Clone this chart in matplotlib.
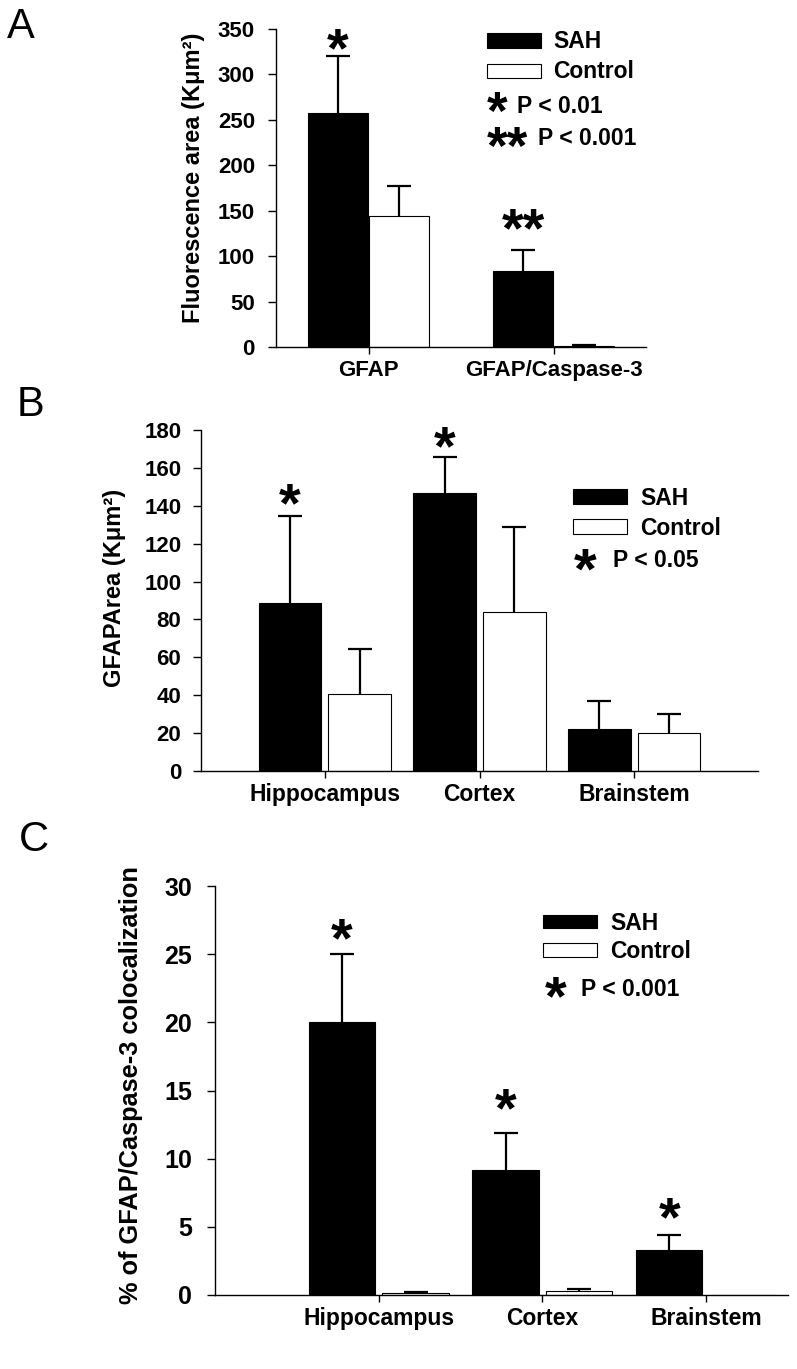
import numpy as np
import matplotlib
matplotlib.use('Agg')
import matplotlib.pyplot as plt
from matplotlib.patches import Rectangle

plt.rcParams['font.family'] = ['Liberation Sans', 'DejaVu Sans']
plt.rcParams['font.weight'] = 'bold'

# ---------------- data ----------------
a_categories = ['GFAP', 'GFAP/Caspase-3']
a_sah = [257, 84]
a_sah_err = [63, 23]
a_ctrl = [144, 1]
a_ctrl_err = [33, 1]
a_star_text = ['*', '**']
a_star_y = [336, 138]

b_categories = ['Hippocampus', 'Cortex', 'Brainstem']
b_sah = [88.5, 147, 22]
b_sah_err = [46, 19, 15]
b_ctrl = [40.5, 84, 20]
b_ctrl_err = [24, 45, 10]
b_star_text = ['*', '*', '']
b_star_y = [145, 175.5, 0]

c_categories = ['Hippocampus', 'Cortex', 'Brainstem']
c_sah = [20.0, 9.15, 3.3]
c_sah_err = [5.0, 2.7, 1.1]
c_ctrl = [0.1, 0.27, 0.0]
c_ctrl_err = [0.08, 0.12, 0.0]
c_star_text = ['*', '*', '*']
c_star_y = [26.7, 14.2, 6.2]

W, H = 797, 1369
STAR_K = 0.45   # asterisk glyph centre height above baseline (em)
fig = plt.figure(figsize=(W / 100, H / 100), dpi=100)


def px_axes(l, t, r, b):
    return fig.add_axes([l / W, 1 - b / H, (r - l) / W, (b - t) / H])


def style_axes(ax, ylim, ystep, xlim, cats, ytick_fs, xtick_fs, ypad):
    ax.set_ylim(*ylim)
    ax.set_yticks(np.arange(ylim[0], ylim[1] + ystep / 2, ystep))
    ax.set_xlim(*xlim)
    ax.set_xticks(np.arange(1, len(cats) + 1))
    ax.set_xticklabels(cats)
    for s in ['top', 'right']:
        ax.spines[s].set_visible(False)
    for s in ['left', 'bottom']:
        ax.spines[s].set_linewidth(1.0)
    ax.tick_params(axis='y', direction='out', length=5.8, width=1.0,
                   pad=ypad, labelsize=ytick_fs)
    ax.tick_params(axis='x', direction='out', length=5.0, width=1.0,
                   pad=4, labelsize=xtick_fs)


def draw_bars(ax, sah, sah_err, ctrl, ctrl_err, offset, width,
              star_text, star_y, star_fs):
    x = np.arange(1, len(sah) + 1)
    sah = np.asarray(sah, float)
    ctrl = np.asarray(ctrl, float)
    sah_err = np.asarray(sah_err, float)
    ctrl_err = np.asarray(ctrl_err, float)
    ax.bar(x - offset, sah, width, color='black', edgecolor='black',
           linewidth=0.8, zorder=2)
    ax.bar(x + offset, ctrl, width, color='white', edgecolor='black',
           linewidth=0.8, zorder=2)
    for xs, v, e in [(x - offset, sah, sah_err), (x + offset, ctrl, ctrl_err)]:
        m = e > 0
        # upper-only error bars: stem from bar top plus a cap
        ax.vlines(xs[m], v[m], v[m] + e[m], colors='black', linewidth=1.6,
                  zorder=3)
        ax.plot(xs[m], v[m] + e[m], linestyle='none', marker='_',
                markersize=17, markeredgewidth=1.6, color='black', zorder=3)
    for xi, t, ys in zip(x - offset, star_text, star_y):
        if t:
            ax.annotate(t, xy=(xi, ys), xytext=(0, -STAR_K * star_fs),
                        textcoords='offset points', ha='center',
                        va='baseline', fontsize=star_fs, fontweight='bold')


def legend_patch(x0, y0, x1, y1, fc):
    fig.add_artist(Rectangle((x0 / W, 1 - y1 / H), (x1 - x0) / W,
                             (y1 - y0) / H, transform=fig.transFigure,
                             facecolor=fc, edgecolor='black', linewidth=0.8))


def cap_text(x, yc, s, fs):
    fig.text(x / W, 1 - (yc + 0.358 * fs * 100 / 72) / H, s, fontsize=fs,
             ha='left', va='baseline', fontweight='bold')


def star_text(xc, yc, s, fs):
    fig.text(xc / W, 1 - (yc + STAR_K * fs * 100 / 72) / H, s, fontsize=fs,
             ha='center', va='baseline', fontweight='bold')


# ---------------- panel A ----------------
axA = px_axes(276, 29, 646, 347)
style_axes(axA, (0, 350), 50, (0.5, 2.5), a_categories, 16, 16, 9.4)
draw_bars(axA, a_sah, a_sah_err, a_ctrl, a_ctrl_err, 0.165, 0.32,
          a_star_text, a_star_y, 40)
axA.set_ylabel('Fluorescence area (K\u03bcm\u00b2)', fontsize=17,
               fontweight='bold', ha='center', va='center')
axA.yaxis.set_label_coords(-0.224, 0.533)

legend_patch(487.5, 33, 541, 47.5, 'black')
cap_text(553.5, 39.5, 'SAH', 16.5)
legend_patch(487.5, 64, 541, 77.5, 'white')
cap_text(553.5, 69.7, 'Control', 16.5)
star_text(497, 105, '*', 38)
cap_text(517, 105, 'P < 0.01', 16.5)
star_text(507, 140, '**', 38)
cap_text(538, 137, 'P < 0.001', 16.5)

# ---------------- panel B ----------------
axB = px_axes(201, 430.3, 758, 770.7)
style_axes(axB, (0, 180), 20, (0.2, 3.8), b_categories, 16, 16.5, 8.4)
draw_bars(axB, b_sah, b_sah_err, b_ctrl, b_ctrl_err, 0.225, 0.405,
          b_star_text, b_star_y, 40)
axB.set_ylabel('GFAPArea (K\u03bcm\u00b2)', fontsize=17,
               fontweight='bold', ha='center', va='center')
axB.yaxis.set_label_coords(-0.156, 0.536)

legend_patch(573.3, 489.3, 626.7, 504, 'black')
cap_text(640, 497, 'SAH', 16.5)
legend_patch(573.3, 519.3, 626.7, 534, 'white')
cap_text(640, 527, 'Control', 16.5)
star_text(585, 562, '*', 42)
cap_text(613, 559, 'P < 0.05', 16.5)

# ---------------- panel C ----------------
axC = px_axes(215, 886.3, 788, 1294.7)
style_axes(axC, (0, 30), 5, (0.0, 3.5), c_categories, 18, 16.5, 10.5)
draw_bars(axC, c_sah, c_sah_err, c_ctrl, c_ctrl_err, 0.225, 0.405,
          c_star_text, c_star_y, 40)
axC.set_ylabel('% of GFAP/Caspase-3 colocalization', fontsize=18.3,
               fontweight='bold', ha='center', va='center')
axC.yaxis.set_label_coords(-0.1466, 0.513)

legend_patch(543.3, 915, 596.7, 928.3, 'black')
cap_text(610, 921.7, 'SAH', 16.5)
legend_patch(543.3, 943.3, 596.7, 956.7, 'white')
cap_text(610, 950, 'Control', 16.5)
star_text(556, 989, '*', 40)
cap_text(581, 988, 'P < 0.001', 16.5)

# ---------------- panel letters ----------------
fig.text(7 / W, 1 - 37.7 / H, 'A', fontsize=30, fontweight='normal',
         ha='left', va='baseline')
fig.text(17 / W, 1 - 416.5 / H, 'B', fontsize=30, fontweight='normal',
         ha='left', va='baseline')
fig.text(19 / W, 1 - 851 / H, 'C', fontsize=30, fontweight='normal',
         ha='left', va='baseline')

fig.savefig('out.png', dpi=100, facecolor='white')
